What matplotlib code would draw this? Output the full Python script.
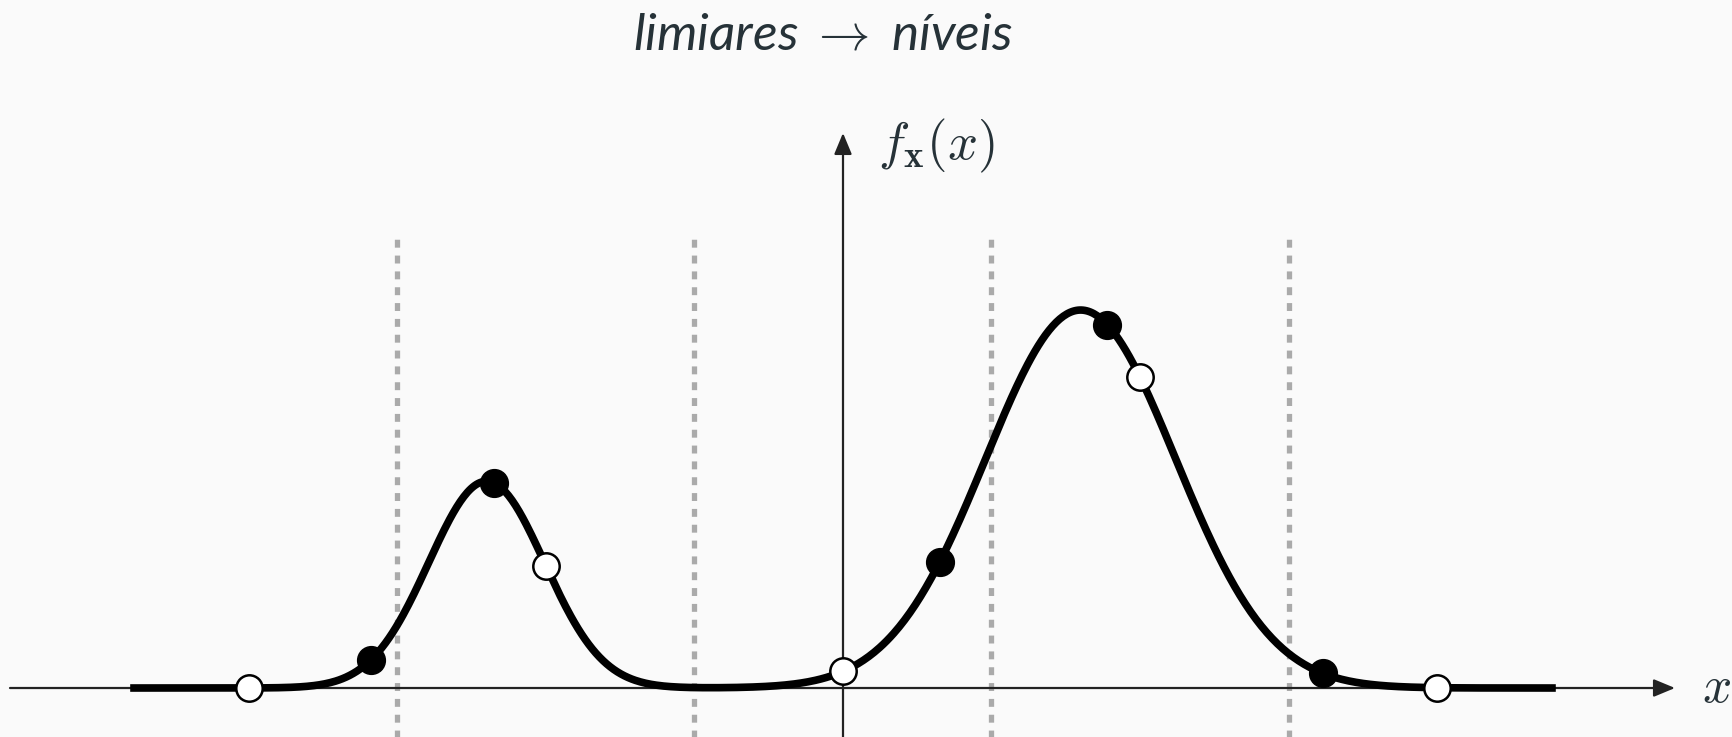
import numpy as np
import matplotlib.pyplot as plt

plt.rcParams['mathtext.fontset'] = 'cm'

# two-component gaussian mixture
mix_weights = [0.25, 0.75]
mix_means = [-2.4, 1.6]
mix_stds = [0.39, 0.64]

thresholds = [-3, -1, 1, 3]
old_levels = [-4, -2, 0, 2, 4]             # white markers
new_levels = [-3.18, -2.35, 0.65, 1.78, 3.23]  # black markers (centroids)

x_range = (-4.8, 4.8)
title = r"limiares $\rightarrow$ níveis"
text_color = '#263238'
bg = '#fafafa'


def pdf(x):
    x = np.asarray(x, dtype=float)
    out = np.zeros_like(x)
    for w, m, s in zip(mix_weights, mix_means, mix_stds):
        out += w / (s * np.sqrt(2 * np.pi)) * np.exp(-0.5 * ((x - m) / s) ** 2)
    return out


fig = plt.figure(figsize=(17.33, 7.37), dpi=100, facecolor=bg)
ax = fig.add_axes([0, 0, 1, 1])
ax.set_facecolor(bg)
ax.axis('off')

# pixel layout: origin at (843, 688), 148.5 px per x unit
ax.set_xlim(-843 / 148.5, (1733 - 843) / 148.5)
ax.set_ylim(-0.0606, 0.851)

axis_kw = dict(arrowstyle='-|>,head_length=0.65,head_width=0.27',
               mutation_scale=20, lw=1.6, color='#222222',
               shrinkA=0, shrinkB=0)
ax.annotate('', xy=((1675 - 843) / 148.5, 0), xytext=(-833 / 148.5, 0),
            arrowprops=axis_kw)
ax.annotate('', xy=(0, 0.851 - 133 / 808.6), xytext=(0, -0.07),
            arrowprops=axis_kw)

for t in thresholds:
    ax.plot([t, t], [-0.07, 0.851 - 234 / 808.6], color='#aaaaaa', lw=3.8,
            linestyle=(0, (1.5, 1.5)), solid_capstyle='butt', zorder=1)

xs = np.linspace(x_range[0], x_range[1], 800)
ax.plot(xs, pdf(xs), color='black', lw=5.5, solid_capstyle='butt', zorder=3)

ax.plot(new_levels, pdf(new_levels), 'o', color='black', ms=20, zorder=4)
ax.plot(old_levels, pdf(old_levels), 'o', mfc='white', mec='black',
        mew=1.8, ms=19, zorder=5)

ax.text((1716 - 843) / 148.5, 0, r'$x$', fontsize=37, color=text_color,
        ha='center', va='center')
ax.text((878 - 843) / 148.5, 0.851 - 146 / 808.6, r'$f_{\mathbf{x}}(x)$',
        fontsize=38, color=text_color, ha='left', va='center')

fig.text(823 / 1733, 1 - 35 / 737, title, fontsize=37, style='italic',
         family='Lato', color=text_color, ha='center', va='center')

fig.savefig('out.png', dpi=100, facecolor=bg)
